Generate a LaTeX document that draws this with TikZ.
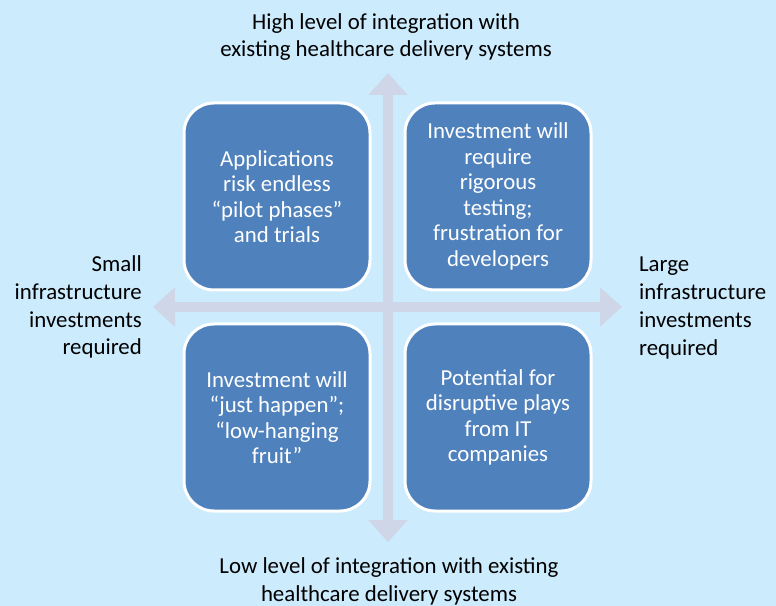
\documentclass[tikz,border=0pt]{standalone}
\usepackage{fontspec}
\setmainfont{Carlito}
\usetikzlibrary{arrows.meta}
\definecolor{bgblue}{RGB}{204,235,253}
\definecolor{boxblue}{RGB}{79,129,189}
\definecolor{axisgray}{RGB}{207,214,232}
\tikzset{
  quad/.style={draw=white, line width=0.9mm, fill=boxblue, rounded corners=9mm,
    minimum width=55.8mm, minimum height=56.1mm, align=center, text=white,
    font=\fontsize{19.5}{21.8}\selectfont},
  axislabel/.style={font=\fontsize{19.5}{23.8}\selectfont},
  axis/.style={line width=3mm, color=axisgray,
    {Triangle[width=11.4mm,length=6.6mm]}-{Triangle[width=11.4mm,length=6.6mm]}}
}
\begin{document}
\begin{tikzpicture}[x=0.3mm, y=-0.3mm]
                \fill[bgblue] (0,0) rectangle (776,606);
                \useasboundingbox (0,0) rectangle (776,606);

                \coordinate (north) at (388,73);
                \coordinate (south) at (388,542);
                \coordinate (west) at (153,307);
                \coordinate (east) at (622,307);
                \draw[axis] (south) -- (north);
                \draw[axis] (west) -- (east);

                \node[quad] (tl) at (277,196.5) {Applications\\risk endless\\``pilot phases''\\and trials};
                \node[quad] (tr) at (498,196.5) {Investment will\\require\\rigorous\\testing;\\frustration for\\developers};
                \node[quad] (bl) at (277,417.5) {Investment will\\``just happen'';\\``low-hanging\\fruit''};
                \node[quad] (br) at (498,417.5) {Potential for\\disruptive plays\\from IT\\companies};

                \node[axislabel, align=center] (high) at (386,37) {High level of integration with\\existing healthcare delivery systems};
                \node[axislabel, align=center] (low) at (389,581) {Low level of integration with existing\\healthcare delivery systems};
                \node[axislabel, align=right, anchor=east] (small) at (146,307) {Small\\infrastructure\\investments\\required};
                \node[axislabel, align=left, anchor=west] (large) at (635,308) {Large\\infrastructure\\investments\\required};
            \end{tikzpicture}
\end{document}
